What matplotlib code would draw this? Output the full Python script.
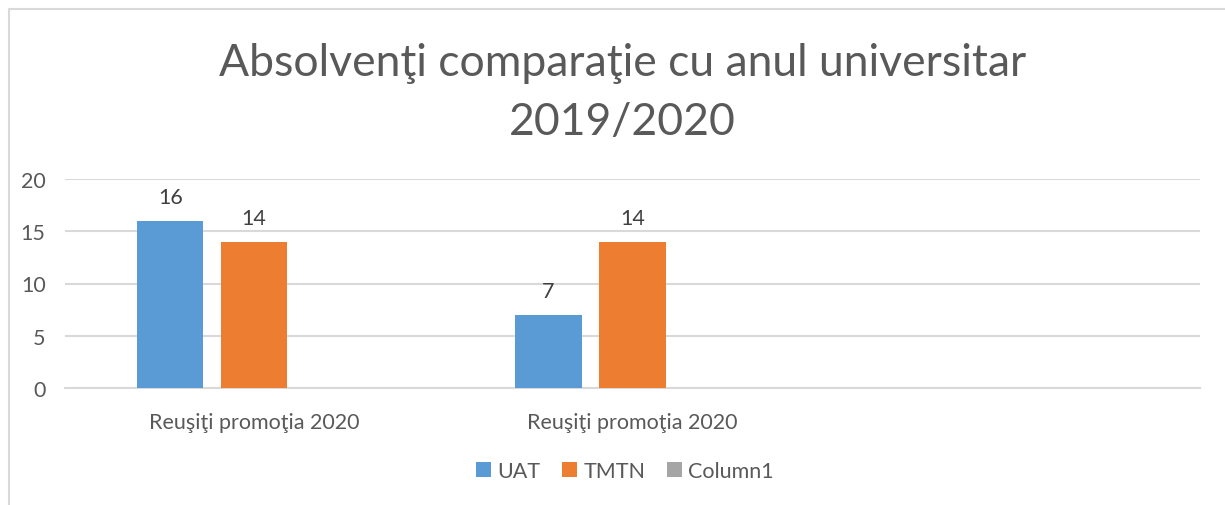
import numpy as np
import matplotlib
matplotlib.use("Agg")
import matplotlib.pyplot as plt
from matplotlib.lines import Line2D
from matplotlib.patches import Patch

# Daten
categories = ["Reuşiţi promoţia 2020", "Reuşiţi promoţia 2020", ""]
uat = [16, 7, np.nan]
tmtn = [14, 14, np.nan]
column1 = [np.nan, np.nan, np.nan]
series_names = ["UAT", "TMTN", "Column1"]
series_colors = ["#5b9bd5", "#ed7d31", "#a5a5a5"]
title = "Absolvenţi comparaţie cu anul universitar\n2019/2020"

plt.rcParams["font.family"] = ["Lato", "DejaVu Sans"]
text_color = "#595959"
grid_color = "#d9d9d9"
fs = 15.5

fig = plt.figure(figsize=(12.25, 5.06), dpi=100)
ax = fig.add_axes([65 / 1225, 1 - 389 / 506, (1200 - 65) / 1225, (389 - 180) / 506])

x = np.arange(len(categories))
width = 0.175
step = 0.222
for i, (vals, name, color) in enumerate(zip([uat, tmtn, column1], series_names, series_colors)):
  pos = x + (i - 1) * step
  ax.bar(pos, np.nan_to_num(vals), width, color=color, label=name, zorder=3)
  for p, v in zip(pos, vals):
    if not np.isnan(v):
      ax.text(p, v + 2.3, "%d" % v, ha="center", va="center", fontsize=fs, color="#404040")

ax.set_xlim(-0.5, len(categories) - 0.5)
ax.set_ylim(0, 20)
ax.set_yticks([0, 5, 10, 15, 20])
ax.set_xticks(x)
ax.set_xticklabels(categories)
ax.tick_params(axis="both", length=0, labelsize=fs, labelcolor=text_color)
ax.tick_params(axis="x", pad=17)
ax.tick_params(axis="y", pad=14)
ax.grid(axis="y", color=grid_color, linewidth=1.5, zorder=0)
for s in ["top", "right", "left"]:
  ax.spines[s].set_visible(False)
ax.spines["bottom"].set_color(grid_color)
ax.spines["bottom"].set_linewidth(1.5)

fig.text(0.508, 1 - 93 / 506, title, ha="center", va="center", fontsize=32, color=text_color, linespacing=1.55)

handles = [Patch(facecolor=c, label=n) for n, c in zip(series_names, series_colors)]
fig.legend(handles=handles, loc="center", bbox_to_anchor=(0.51, 1 - 472 / 506), ncol=3, frameon=False,
           fontsize=fs, labelcolor=text_color, handlelength=0.7, handleheight=0.7, handletextpad=0.3,
           columnspacing=1.0)

# Rahmen links und oben
fig.add_artist(Line2D([9 / 1225, 9 / 1225, 1], [0, 1 - 9.5 / 506, 1 - 9.5 / 506], color=grid_color, linewidth=1.5))

fig.savefig("out.png", dpi=100)
